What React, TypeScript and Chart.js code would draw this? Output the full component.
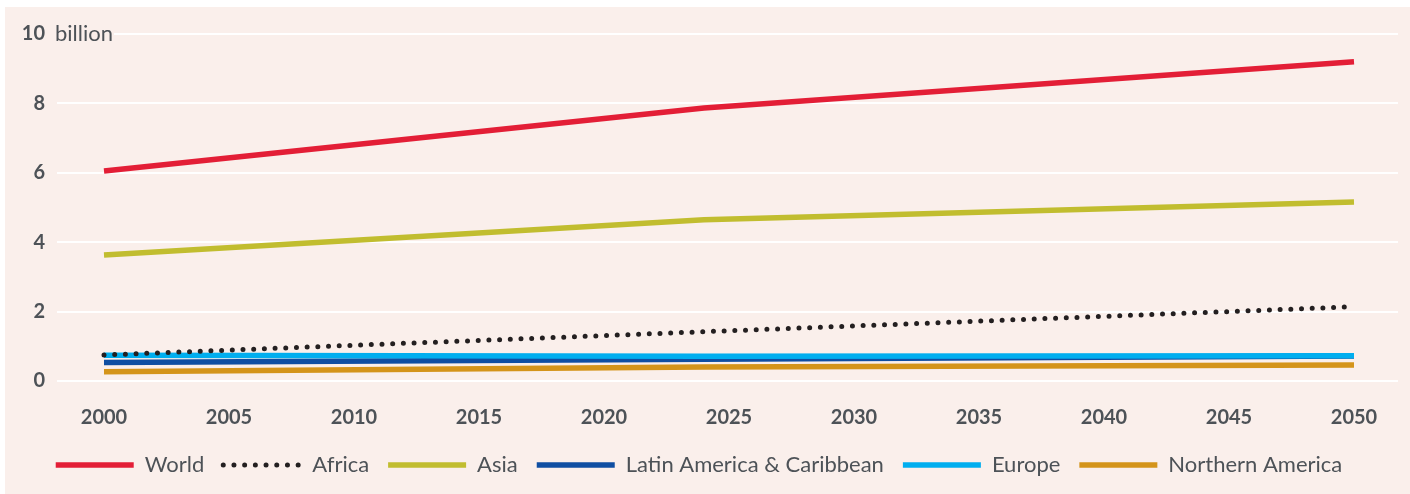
import { useEffect, useRef } from "react";
import { Chart, registerables } from "chart.js";

Chart.register(...registerables);

// ---- data ----
const years = [2000, 2024, 2050];
const xTickYears = [2000, 2005, 2010, 2015, 2020, 2025, 2030, 2035, 2040, 2045, 2050];
const yTickValues = [0, 2, 4, 6, 8, 10];
const seriesNames = [
  "World",
  "Africa",
  "Asia",
  "Latin America & Caribbean",
  "Europe",
  "Northern America",
];
const world = [6.05, 7.87, 9.2];
const africa = [0.75, 1.42, 2.14];
const asia = [3.63, 4.65, 5.16];
const latinAmerica = [0.53, 0.63, 0.72];
const europe = [0.74, 0.71, 0.73];
const northernAmerica = [0.27, 0.4, 0.46];
const unitLabel = "billion";

// ---- styles ----
const PINK = "rgb(250,239,235)";
const TEXT = "#4d5257";
const FONT = "Lato, 'Open Sans', sans-serif";
const colors = ["#e31e36", "#231f20", "#c1bd2f", "#0f4ea2", "#00aeef", "#d4941a"];
const drawOrder = [1, 0, 2, 4, 3, 5];

export default function App() {
  const ref = useRef<HTMLCanvasElement | null>(null);

  useEffect(() => {
    let chart: Chart | null = null;
    let cancelled = false;
    const series = [world, africa, asia, latinAmerica, europe, northernAmerica];

    const unitPlugin = {
      id: "unitLabel",
      afterDraw(c: any) {
        const y = c.scales.y.getPixelForValue(10);
        const ctx = c.ctx;
        ctx.save();
        ctx.fillStyle = PINK;
        ctx.fillRect(48, y - 3, 66, 6);
        ctx.font = `22px ${FONT}`;
        ctx.fillStyle = TEXT;
        ctx.textBaseline = "middle";
        ctx.textAlign = "left";
        ctx.fillText(unitLabel, 55, y);
        ctx.restore();
      },
    };

    const make = () => {
      if (cancelled || !ref.current) return;
      chart = new Chart(ref.current, {
        type: "line",
        data: {
          datasets: series.map((arr, i) => ({
            label: seriesNames[i],
            data: years.map((x, j) => ({ x, y: arr[j] })),
            borderColor: colors[i],
            backgroundColor: colors[i],
            borderWidth: i === 1 ? 5 : 5.5,
            borderDash: i === 1 ? [0, 10.7] : [],
            borderCapStyle: i === 1 ? "round" : "butt",
            pointRadius: 0,
            tension: 0,
            fill: false,
            order: drawOrder[i],
          })),
        },
        options: {
          responsive: false,
          animation: false,
          events: [],
          layout: { padding: { left: 0, right: 12, top: 34, bottom: 8 } },
          scales: {
            x: {
              type: "linear",
              min: 1998.12,
              max: 2051.76,
              grid: { display: false, drawTicks: false },
              border: { display: false },
              afterBuildTicks: (s: any) => {
                s.ticks = xTickYears.map((v) => ({ value: v }));
              },
              afterFit: (s: any) => {
                s.height = 54;
              },
              ticks: {
                autoSkip: false,
                maxRotation: 0,
                padding: 25,
                color: TEXT,
                font: { family: FONT, size: 20, weight: "bold" },
                callback: (v: any) => String(v),
              },
            },
            y: {
              min: 0,
              max: 10,
              afterBuildTicks: (s: any) => {
                s.ticks = yTickValues.map((v) => ({ value: v }));
              },
              afterFit: (s: any) => {
                s.width = 57;
              },
              grid: { color: "#ffffff", lineWidth: 2, drawTicks: false },
              border: { display: false },
              ticks: {
                padding: 12,
                color: TEXT,
                font: { family: FONT, size: 20, weight: "bold" },
                callback: (v: any) => String(v),
              },
            },
          },
          plugins: {
            tooltip: { enabled: false },
            legend: {
              position: "bottom",
              labels: {
                usePointStyle: true,
                pointStyleWidth: 78,
                boxHeight: 6,
                padding: 19,
                color: TEXT,
                font: { family: FONT, size: 22 },
                generateLabels: (c: any) =>
                  c.data.datasets.map((ds: any, i: number) => ({
                    text: ds.label,
                    fillStyle: colors[i],
                    strokeStyle: colors[i],
                    lineWidth: i === 1 ? 5 : 5.5,
                    lineDash: i === 1 ? [0, 10.7] : [],
                    lineCap: i === 1 ? "round" : "butt",
                    pointStyle: "line",
                    hidden: false,
                    datasetIndex: i,
                    fontColor: TEXT,
                  })),
              },
            },
          },
        },
        plugins: [unitPlugin],
      } as any);
    };

    const fontsReady = (document as any).fonts
      ? Promise.all([
          (document as any).fonts.load(`bold 20px Lato`),
          (document as any).fonts.load(`22px Lato`),
        ]).catch(() => null)
      : Promise.resolve(null);
    fontsReady.then(make);

    return () => {
      cancelled = true;
      if (chart) chart.destroy();
    };
  }, []);

  return (
    <div
      style={{
        position: "fixed",
        left: 0,
        top: 0,
        width: 1410,
        height: 494,
        background: "#ffffff",
        overflow: "hidden",
      }}
    >
      <div
        style={{
          position: "absolute",
          left: 5,
          top: 7,
          right: 0,
          bottom: 0,
          background: PINK,
        }}
      />
      <canvas
        ref={ref}
        width={1410}
        height={494}
        style={{ position: "absolute", left: 0, top: 0, width: 1410, height: 494 }}
      />
    </div>
  );
}
